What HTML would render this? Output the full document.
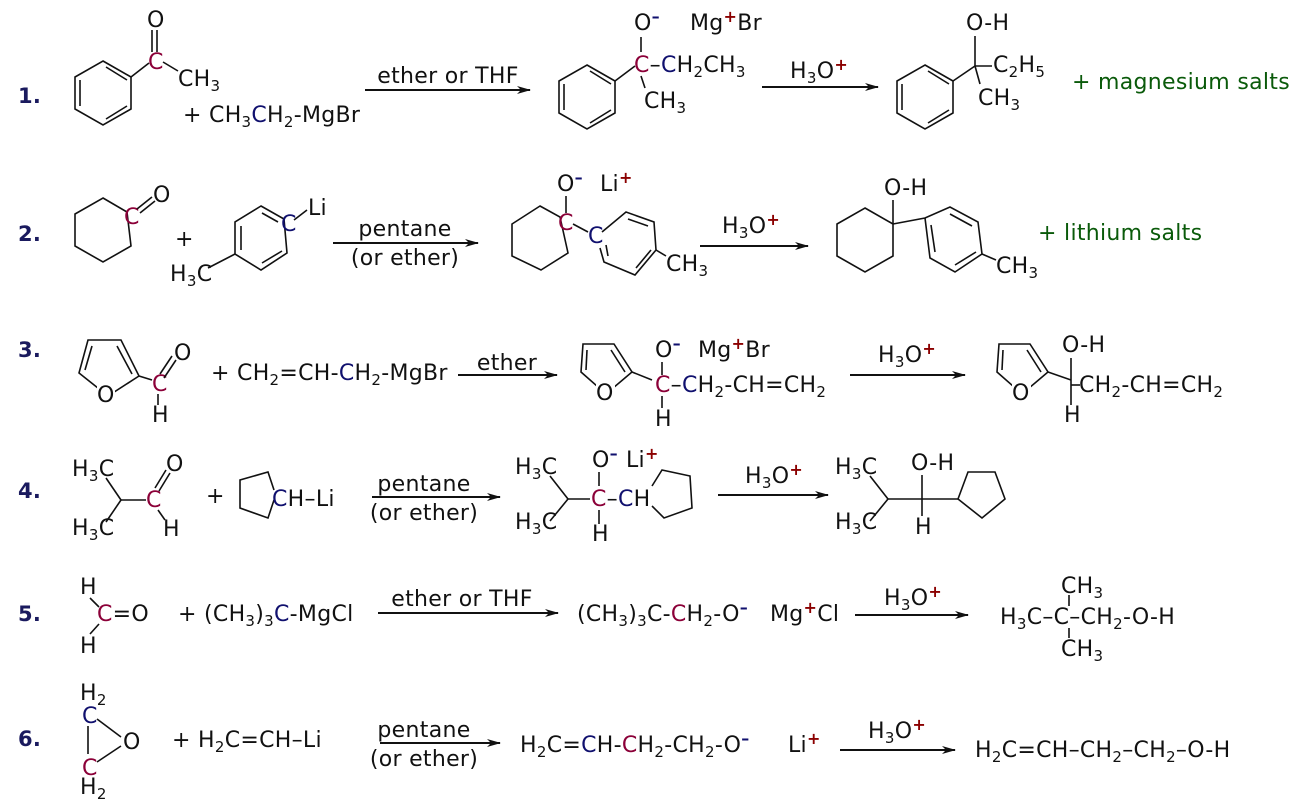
<!DOCTYPE html>
<html><head><meta charset="utf-8"><style>
html,body{margin:0;padding:0;background:#fff}
svg{display:block}
text{font-family:"DejaVu Sans","Liberation Sans",sans-serif;font-size:22px;letter-spacing:0.3px;fill:#111}
.n{font-weight:bold;fill:#1a1a5e;font-size:21px}
.r{fill:#8b0038}.b{fill:#10106e}.g{fill:#0a5a0a}
.s{font-size:15px;baseline-shift:-5px}
.p{font-size:16px;baseline-shift:8px;fill:#8b0000;font-weight:bold}
.m{font-size:16px;baseline-shift:8px;fill:#10106e;font-weight:bold}
line,polyline,polygon{stroke:#111;stroke-width:1.6;fill:none}
.a{stroke:#111;stroke-width:2}
</style></head><body>
<svg width="1296" height="800" viewBox="0 0 1296 800" xmlns="http://www.w3.org/2000/svg">
<defs><marker id="ah" markerWidth="14" markerHeight="10" refX="13" refY="5" orient="auto" markerUnits="userSpaceOnUse"><path d="M0,1 L14,5 L0,9 L4,5 Z" fill="#111"/></marker></defs>

<!-- ROW 1 -->
<text class="n" x="18" y="103">1.</text>
<polygon points="103,61 131,77 131,109 103,125 75,109 75,77"/>
<line x1="80" y1="80" x2="80" y2="106"/><line x1="106" y1="67" x2="127" y2="80"/><line x1="106" y1="119" x2="127" y2="106"/>
<line x1="131" y1="77" x2="149" y2="63"/>
<text x="148" y="69" class="r">C</text>
<line x1="152" y1="30" x2="152" y2="52"/><line x1="157" y1="30" x2="157" y2="52"/>
<text x="147" y="27">O</text>
<line x1="163" y1="62" x2="178" y2="71"/>
<text x="178" y="86">CH<tspan class="s">3</tspan></text>
<text x="183" y="122">+  CH<tspan class="s">3</tspan><tspan class="b">C</tspan>H<tspan class="s">2</tspan>-MgBr</text>
<line class="a" x1="365" y1="90" x2="530" y2="90" marker-end="url(#ah)"/>
<text x="448" y="83" text-anchor="middle">ether or THF</text>
<polygon points="587,65 615,81 615,113 587,129 559,113 559,81"/>
<line x1="564" y1="84" x2="564" y2="110"/><line x1="590" y1="71" x2="611" y2="84"/><line x1="590" y1="123" x2="611" y2="110"/>
<line x1="615" y1="81" x2="635" y2="66"/>
<text x="634" y="30">O<tspan class="m">–</tspan></text>
<text x="690" y="30">Mg<tspan class="p">+</tspan>Br</text>
<line x1="641" y1="37" x2="641" y2="52"/>
<text x="634" y="72"><tspan class="r">C</tspan>–<tspan class="b">C</tspan>H<tspan class="s">2</tspan>CH<tspan class="s">3</tspan></text>
<line x1="641" y1="76" x2="645" y2="88"/>
<text x="644" y="108">CH<tspan class="s">3</tspan></text>
<line class="a" x1="762" y1="87" x2="878" y2="87" marker-end="url(#ah)"/>
<text x="790" y="78">H<tspan class="s">3</tspan>O<tspan class="p">+</tspan></text>
<polygon points="925,65 953,81 953,113 925,129 897,113 897,81"/>
<line x1="902" y1="84" x2="902" y2="110"/><line x1="928" y1="71" x2="949" y2="84"/><line x1="928" y1="123" x2="949" y2="110"/>
<line x1="953" y1="81" x2="975" y2="66"/>
<line x1="975" y1="66" x2="975" y2="36"/>
<line x1="975" y1="66" x2="992" y2="66"/>
<line x1="975" y1="66" x2="980" y2="84"/>
<text x="966" y="30">O-H</text>
<text x="993" y="72">C<tspan class="s">2</tspan>H<tspan class="s">5</tspan></text>
<text x="978" y="105">CH<tspan class="s">3</tspan></text>
<text x="1072" y="89" class="g">+  magnesium salts</text>

<!-- ROW 2 -->
<text class="n" x="18" y="241">2.</text>
<polygon points="103,198 127,212 131,246 103,262 75,246 75,214"/>
<text x="124" y="224" class="r">C</text>
<line x1="137" y1="209" x2="152" y2="197"/><line x1="140" y1="213" x2="155" y2="201"/>
<text x="153" y="202">O</text>
<text x="175" y="246">+</text>
<polygon points="261,206 284,219 287,253 261,270 235,254 235,222"/>
<line x1="241" y1="226" x2="241" y2="250"/><line x1="262" y1="213" x2="278" y2="222"/><line x1="262" y1="263" x2="282" y2="251"/>
<text x="281" y="231" class="b">C</text>
<line x1="294" y1="220" x2="307" y2="210"/>
<text x="308" y="215">Li</text>
<line x1="235" y1="254" x2="208" y2="268"/>
<text x="170" y="281">H<tspan class="s">3</tspan>C</text>
<line class="a" x1="333" y1="243" x2="478" y2="243" marker-end="url(#ah)"/>
<text x="405" y="236" text-anchor="middle">pentane</text>
<text x="405" y="265" text-anchor="middle">(or ether)</text>
<polygon points="540,206 560,217 568,253 541,270 512,256 512,224"/>
<text x="558" y="230" class="r">C</text>
<line x1="566" y1="196" x2="566" y2="213"/>
<text x="557" y="191">O<tspan class="m">–</tspan></text>
<text x="600" y="191">Li<tspan class="p">+</tspan></text>
<line x1="573" y1="224" x2="588" y2="232"/>
<text x="588" y="243" class="b">C</text>
<polyline points="602,232 626,212 654,222 656,250 635,275 604,262 600,248"/>
<line x1="628" y1="219" x2="648" y2="226"/><line x1="636" y1="268" x2="651" y2="250"/><line x1="608" y1="256" x2="606" y2="245"/>
<line x1="656" y1="250" x2="666" y2="256"/>
<text x="666" y="271">CH<tspan class="s">3</tspan></text>
<line class="a" x1="700" y1="246" x2="808" y2="246" marker-end="url(#ah)"/>
<text x="722" y="233">H<tspan class="s">3</tspan>O<tspan class="p">+</tspan></text>
<polygon points="865,208 893,224 893,256 865,272 837,256 837,224"/>
<line x1="893" y1="224" x2="893" y2="200"/>
<text x="884" y="195">O-H</text>
<polyline points="893,224 925,218 950,207 978,222 982,254 955,272 930,258 925,218"/>
<line x1="950" y1="214" x2="972" y2="226"/><line x1="955" y1="265" x2="976" y2="252"/><line x1="931" y1="225" x2="935" y2="252"/>
<line x1="982" y1="254" x2="996" y2="260"/>
<text x="996" y="273">CH<tspan class="s">3</tspan></text>
<text x="1038" y="240" class="g">+  lithium salts</text>

<!-- ROW 3 -->
<text class="n" x="18" y="357">3.</text>
<polygon points="88,340 121,340 139,376 108,396 79,373"/>
<line x1="92" y1="346" x2="85" y2="370"/><line x1="117" y1="346" x2="132" y2="374"/>
<rect x="97" y="384" width="18" height="19" fill="#fff" stroke="none"/>
<text x="97" y="402">O</text>
<line x1="139" y1="376" x2="152" y2="380"/>
<text x="152" y="391" class="r">C</text>
<line x1="160" y1="374" x2="172" y2="356"/><line x1="164" y1="378" x2="176" y2="360"/>
<text x="174" y="360">O</text>
<line x1="158" y1="394" x2="158" y2="405"/>
<text x="152" y="422">H</text>
<text x="211" y="380">+  CH<tspan class="s">2</tspan>=CH-<tspan class="b">C</tspan>H<tspan class="s">2</tspan>-MgBr</text>
<line class="a" x1="458" y1="375" x2="557" y2="375" marker-end="url(#ah)"/>
<text x="507" y="370" text-anchor="middle">ether</text>
<polygon points="583,344 614,344 632,372 606,394 581,372"/>
<line x1="587" y1="350" x2="586" y2="370"/><line x1="611" y1="350" x2="625" y2="372"/>
<rect x="596" y="382" width="19" height="19" fill="#fff" stroke="none"/>
<text x="596" y="400">O</text>
<line x1="632" y1="372" x2="652" y2="380"/>
<text x="655" y="357">O<tspan class="m">–</tspan></text>
<text x="698" y="357">Mg<tspan class="p">+</tspan>Br</text>
<line x1="662" y1="362" x2="662" y2="375"/>
<text x="655" y="392"><tspan class="r">C</tspan>–<tspan class="b">C</tspan>H<tspan class="s">2</tspan>-CH=CH<tspan class="s">2</tspan></text>
<line x1="662" y1="396" x2="662" y2="408"/>
<text x="655" y="426">H</text>
<line class="a" x1="850" y1="375" x2="965" y2="375" marker-end="url(#ah)"/>
<text x="878" y="362">H<tspan class="s">3</tspan>O<tspan class="p">+</tspan></text>
<polygon points="999,344 1030,344 1048,372 1022,394 997,372"/>
<line x1="1003" y1="350" x2="1002" y2="370"/><line x1="1027" y1="350" x2="1041" y2="372"/>
<rect x="1012" y="382" width="19" height="19" fill="#fff" stroke="none"/>
<text x="1012" y="400">O</text>
<line x1="1048" y1="372" x2="1071" y2="380"/>
<line x1="1071" y1="358" x2="1071" y2="405"/>
<line x1="1071" y1="385" x2="1080" y2="385"/>
<text x="1062" y="352">O-H</text>
<text x="1079" y="392">CH<tspan class="s">2</tspan>-CH=CH<tspan class="s">2</tspan></text>
<text x="1064" y="422">H</text>

<!-- ROW 4 -->
<text class="n" x="18" y="498">4.</text>
<text x="72" y="476">H<tspan class="s">3</tspan>C</text>
<text x="72" y="535">H<tspan class="s">3</tspan>C</text>
<line x1="106" y1="478" x2="121" y2="500"/><line x1="106" y1="522" x2="121" y2="500"/>
<line x1="121" y1="500" x2="146" y2="500"/>
<text x="146" y="507" class="r">C</text>
<line x1="155" y1="488" x2="166" y2="470"/><line x1="159" y1="491" x2="170" y2="473"/>
<text x="166" y="471">O</text>
<line x1="158" y1="510" x2="165" y2="520"/>
<text x="163" y="536">H</text>
<text x="206" y="503">+</text>
<polyline points="274,490 268,472 240,480 240,508 268,518 274,500"/>
<text x="272" y="506"><tspan class="b">C</tspan>H–Li</text>
<line class="a" x1="372" y1="497" x2="500" y2="497" marker-end="url(#ah)"/>
<text x="424" y="491" text-anchor="middle">pentane</text>
<text x="424" y="520" text-anchor="middle">(or ether)</text>
<text x="515" y="474">H<tspan class="s">3</tspan>C</text>
<text x="515" y="529">H<tspan class="s">3</tspan>C</text>
<line x1="550" y1="476" x2="568" y2="499"/><line x1="550" y1="521" x2="568" y2="499"/>
<line x1="568" y1="499" x2="590" y2="499"/>
<text x="592" y="467">O<tspan class="m">–</tspan></text>
<text x="626" y="467">Li<tspan class="p">+</tspan></text>
<line x1="599" y1="472" x2="599" y2="486"/>
<text x="591" y="506"><tspan class="r">C</tspan>–<tspan class="b">C</tspan>H</text>
<polyline points="652,486 662,470 690,476 692,508 664,518 652,506"/>
<line x1="599" y1="510" x2="599" y2="524"/>
<text x="592" y="541">H</text>
<line class="a" x1="718" y1="495" x2="828" y2="495" marker-end="url(#ah)"/>
<text x="745" y="483">H<tspan class="s">3</tspan>O<tspan class="p">+</tspan></text>
<text x="835" y="474">H<tspan class="s">3</tspan>C</text>
<text x="835" y="529">H<tspan class="s">3</tspan>C</text>
<line x1="870" y1="476" x2="888" y2="499"/><line x1="870" y1="521" x2="888" y2="499"/>
<line x1="888" y1="499" x2="958" y2="499"/>
<line x1="922" y1="475" x2="922" y2="516"/>
<text x="911" y="470">O-H</text>
<text x="915" y="534">H</text>
<polygon points="958,499 968,472 995,472 1005,499 982,518"/>

<!-- ROW 5 -->
<text class="n" x="18" y="621">5.</text>
<text x="80" y="594">H</text>
<line x1="90" y1="598" x2="99" y2="607"/>
<text x="97" y="621"><tspan class="r">C</tspan>=O</text>
<line x1="99" y1="624" x2="90" y2="634"/>
<text x="80" y="653">H</text>
<text x="178" y="621">+  (CH<tspan class="s">3</tspan>)<tspan class="s">3</tspan><tspan class="b">C</tspan>-MgCl</text>
<line class="a" x1="378" y1="613" x2="558" y2="613" marker-end="url(#ah)"/>
<text x="462" y="606" text-anchor="middle">ether or THF</text>
<text x="577" y="621">(CH<tspan class="s">3</tspan>)<tspan class="s">3</tspan>C-<tspan class="r">C</tspan>H<tspan class="s">2</tspan>-O<tspan class="m">–</tspan></text>
<text x="770" y="621">Mg<tspan class="p">+</tspan>Cl</text>
<line class="a" x1="855" y1="615" x2="968" y2="615" marker-end="url(#ah)"/>
<text x="884" y="605">H<tspan class="s">3</tspan>O<tspan class="p">+</tspan></text>
<text x="1061" y="593">CH<tspan class="s">3</tspan></text>
<text x="1000" y="624">H<tspan class="s">3</tspan>C–C–CH<tspan class="s">2</tspan>-O-H</text>
<line x1="1069" y1="595" x2="1069" y2="606"/><line x1="1069" y1="628" x2="1069" y2="638"/>
<text x="1061" y="656">CH<tspan class="s">3</tspan></text>

<!-- ROW 6 -->
<text class="n" x="18" y="746">6.</text>
<text x="80" y="700">H<tspan class="s">2</tspan></text>
<text x="82" y="723" class="b">C</text>
<line x1="88" y1="726" x2="88" y2="754"/>
<line x1="97" y1="719" x2="121" y2="737"/><line x1="97" y1="762" x2="121" y2="746"/>
<text x="123" y="749">O</text>
<text x="82" y="775" class="r">C</text>
<text x="80" y="794">H<tspan class="s">2</tspan></text>
<text x="172" y="747">+  H<tspan class="s">2</tspan>C=CH–Li</text>
<line class="a" x1="380" y1="743" x2="500" y2="743" marker-end="url(#ah)"/>
<text x="424" y="737" text-anchor="middle">pentane</text>
<text x="424" y="766" text-anchor="middle">(or ether)</text>
<text x="520" y="752">H<tspan class="s">2</tspan>C=<tspan class="b">C</tspan>H-<tspan class="r">C</tspan>H<tspan class="s">2</tspan>-CH<tspan class="s">2</tspan>-O<tspan class="m">–</tspan></text>
<text x="788" y="752">Li<tspan class="p">+</tspan></text>
<line class="a" x1="840" y1="750" x2="955" y2="750" marker-end="url(#ah)"/>
<text x="868" y="738">H<tspan class="s">3</tspan>O<tspan class="p">+</tspan></text>
<text x="975" y="757">H<tspan class="s">2</tspan>C=CH–CH<tspan class="s">2</tspan>–CH<tspan class="s">2</tspan>–O-H</text>
</svg>
</body></html>
